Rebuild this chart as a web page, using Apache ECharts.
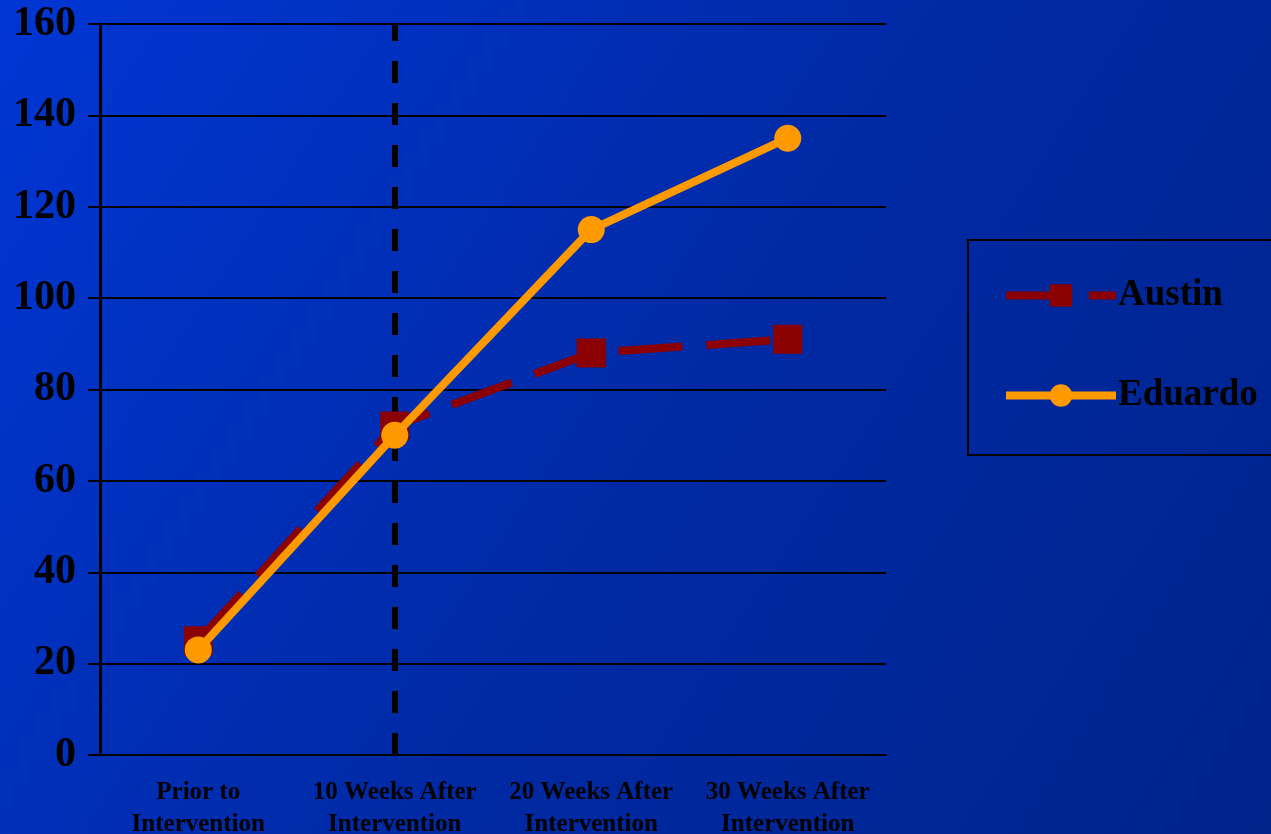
<!DOCTYPE html>
<html>
<head>
<meta charset="utf-8">
<script src="https://cdn.jsdelivr.net/npm/echarts@6/dist/echarts.min.js"></script>
<style>
html,body{margin:0;padding:0;}
#chart{width:1271px;height:834px;}
</style>
</head>
<body>
<div id="chart"></div>
<script>
const categories = ['Prior to\nIntervention', '10 Weeks After\nIntervention', '20 Weeks After\nIntervention', '30 Weeks After\nIntervention'];
const austin = [25, 72, 88, 91];
const eduardo = [23, 70, 115, 135];
const yTicks = { min: 0, max: 160, interval: 20 };
const phaseLine = '10 Weeks After\nIntervention';

const chart = echarts.init(document.getElementById('chart'));
const serif = 'Liberation Serif';
chart.setOption({
  animation: false,
  backgroundColor: {
    type: 'linear', x: 0, y: 0, x2: 1, y2: 1,
    colorStops: [
      { offset: 0, color: '#0036d4' },
      { offset: 0.5, color: '#002aa6' },
      { offset: 1, color: '#00238a' }
    ]
  },
  grid: { left: 100, right: 385, top: 24, bottom: 79, outerBoundsMode: 'none', containLabel: false },
  legend: {
    orient: 'vertical',
    left: 968, top: 240,
    padding: [37, 60, 41, 34],
    itemGap: 63,
    itemWidth: 110, itemHeight: 28,
    borderColor: '#000', borderWidth: 2,
    textStyle: { color: '#000', fontFamily: serif, fontWeight: 'bold', fontSize: 37, padding: [0, 0, 0, -3] },
    data: [
      { name: 'Austin', lineStyle: { width: 8, type: [64, 24] } },
      { name: 'Eduardo', lineStyle: { width: 8 } }
    ]
  },
  xAxis: {
    type: 'category',
    data: categories,
    axisLine: { lineStyle: { color: '#000', width: 2 } },
    axisTick: { show: false },
    axisLabel: { color: '#000', fontFamily: serif, fontWeight: 'bold', fontSize: 25, lineHeight: 32, margin: 22, interval: 0 }
  },
  yAxis: {
    type: 'value',
    min: yTicks.min, max: yTicks.max, interval: yTicks.interval,
    axisLine: { show: true, lineStyle: { color: '#000', width: 3 } },
    axisTick: { show: true, length: 12, lineStyle: { color: '#000', width: 2 } },
    splitLine: { lineStyle: { color: '#000', width: 2 } },
    axisLabel: { color: '#000', fontFamily: serif, fontWeight: 'bold', fontSize: 42, margin: 24 }
  },
  series: [
    {
      name: 'Austin', type: 'line', data: austin,
      symbol: 'rect', symbolSize: 29,
      lineStyle: { color: '#8b0000', width: 8, type: [64, 24] },
      itemStyle: { color: '#8b0000' },
      z: 3,
      markLine: {
        silent: true, symbol: 'none', label: { show: false }, z: 1,
        lineStyle: { color: '#000', width: 6, type: [22, 20], dashOffset: 5 },
        data: [[{ coord: [phaseLine, yTicks.max] }, { coord: [phaseLine, yTicks.min] }]]
      }
    },
    {
      name: 'Eduardo', type: 'line', data: eduardo,
      symbol: 'circle', symbolSize: 27,
      lineStyle: { color: '#ff9900', width: 8 },
      itemStyle: { color: '#ff9900' },
      z: 4
    }
  ]
});
</script>
</body>
</html>
